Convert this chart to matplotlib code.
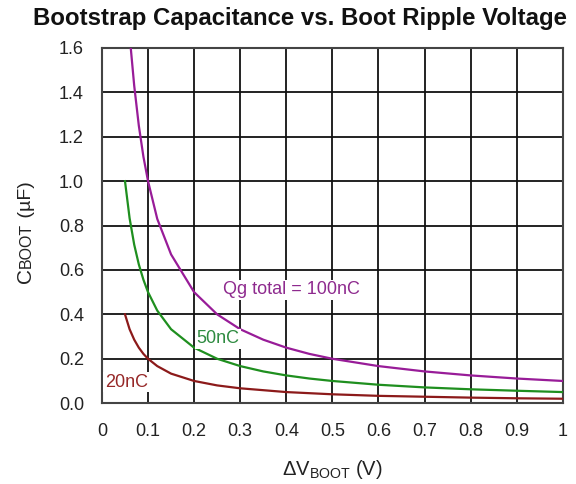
import matplotlib
matplotlib.use("Agg")
import matplotlib.pyplot as plt

plt.rcParams['font.family'] = ['Liberation Sans', 'DejaVu Sans']
plt.rcParams['mathtext.fontset'] = 'custom'
plt.rcParams['mathtext.rm'] = 'Liberation Sans'

# Boot ripple voltage (V) and required bootstrap capacitance (uF)
v_100 = [0.0625, 0.07, 0.08, 0.09, 0.10, 0.12, 0.15, 0.20, 0.25, 0.30, 0.35, 0.40,
         0.45, 0.50, 0.60, 0.70, 0.80, 0.90, 1.00]
c_100 = [1.60, 1.43, 1.25, 1.11, 1.00, 0.83, 0.67, 0.50, 0.40, 0.333, 0.286, 0.25,
         0.222, 0.20, 0.167, 0.143, 0.125, 0.111, 0.10]

v_50 = [0.05, 0.06, 0.07, 0.08, 0.09, 0.10, 0.12, 0.15, 0.20, 0.25, 0.30, 0.35,
        0.40, 0.45, 0.50, 0.60, 0.70, 0.80, 0.90, 1.00]
c_50 = [1.00, 0.833, 0.714, 0.625, 0.556, 0.50, 0.417, 0.333, 0.25, 0.20, 0.167,
        0.143, 0.125, 0.111, 0.10, 0.083, 0.071, 0.0625, 0.056, 0.05]

v_20 = [0.05, 0.06, 0.07, 0.08, 0.09, 0.10, 0.12, 0.15, 0.20, 0.25, 0.30, 0.40,
        0.50, 0.60, 0.70, 0.80, 0.90, 1.00]
c_20 = [0.40, 0.333, 0.286, 0.25, 0.222, 0.20, 0.167, 0.133, 0.10, 0.08, 0.067,
        0.05, 0.04, 0.033, 0.029, 0.025, 0.022, 0.02]

x_ticks = [0, 0.1, 0.2, 0.3, 0.4, 0.5, 0.6, 0.7, 0.8, 0.9, 1]
x_labels = ['0', '0.1', '0.2', '0.3', '0.4', '0.5', '0.6', '0.7', '0.8', '0.9', '1']
y_ticks = [0.0, 0.2, 0.4, 0.6, 0.8, 1.0, 1.2, 1.4, 1.6]
y_labels = ['0.0', '0.2', '0.4', '0.6', '0.8', '1.0', '1.2', '1.4', '1.6']

PURPLE = '#981c98'
GREEN = '#1f8f1f'
RED = '#8c1a1a'

fig = plt.figure(figsize=(5.76, 4.84), dpi=100)
ax = fig.add_axes([0.177, 0.167, 0.800, 0.734])

ax.plot(v_100, c_100, color=PURPLE, lw=1.6, zorder=3)
ax.plot(v_50, c_50, color=GREEN, lw=1.6, zorder=3)
ax.plot(v_20, c_20, color=RED, lw=1.6, zorder=3)

ax.set_xlim(0, 1)
ax.set_ylim(0, 1.6)
ax.set_xticks(x_ticks)
ax.set_xticklabels(x_labels)
ax.set_yticks(y_ticks)
ax.set_yticklabels(y_labels)
ax.tick_params(axis='both', length=0, labelsize=13, colors='#222222')
ax.tick_params(axis='x', pad=14)
ax.tick_params(axis='y', pad=13)
ax.grid(True, color='#111111', lw=1.3, zorder=1)
ax.set_axisbelow(True)
for s in ax.spines.values():
    s.set_color('#444444')
    s.set_linewidth(1.5)

box = dict(facecolor='white', edgecolor='none', pad=1.0)
ax.text(0.262, 0.51, 'Qg total = 100nC', color='#8e2a8e', fontsize=13,
        va='center', ha='left', bbox=box, zorder=4)
ax.text(0.205, 0.29, '50nC', color='#2e8b40', fontsize=13,
        va='center', ha='left', bbox=box, zorder=4)
ax.text(0.006, 0.095, '20nC', color='#962828', fontsize=13,
        va='center', ha='left', bbox=box, zorder=4)

fig.text(0.521, 0.985, 'Bootstrap Capacitance vs. Boot Ripple Voltage',
         fontsize=17.3, fontweight='bold', ha='center', va='top', color='#111111')

# x-axis label with lowered subscript
ax.set_xlabel(r'$\mathregular{\Delta V_{BOOT}}$ (V)', fontsize=14.5, labelpad=13,
              color='#222222')

# y-axis label built from pieces so "BOOT" sits on the baseline in a smaller size
renderer = fig.canvas.get_renderer()
pieces = [('C', 15), ('BOOT', 11.5), (' (\u00b5F)', 14)]
x_base = 31 / 576
y_pix = 283
for txt, size in pieces:
    t = fig.text(x_base, 1 - y_pix / 484, txt, fontsize=size, rotation=90,
                 ha='left', va='baseline', rotation_mode='anchor',
                 color='#222222')
    ext = t.get_window_extent(renderer)
    y_pix -= ext.height

fig.savefig('out.png', dpi=100, facecolor='white')
